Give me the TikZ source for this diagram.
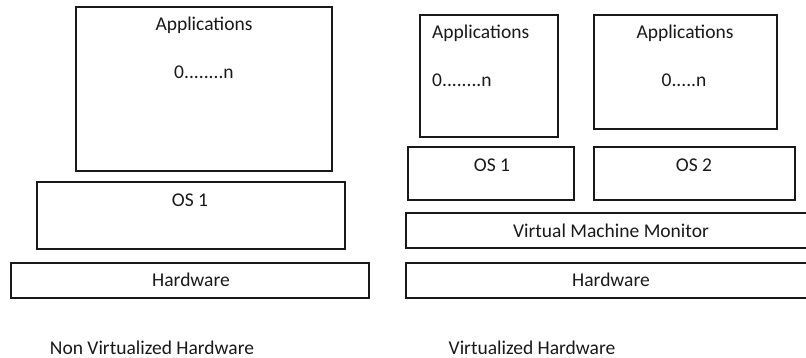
\documentclass[tikz,border=0pt]{standalone}
\usepackage{fontspec}
\setmainfont{Carlito}
\begin{document}
\begin{tikzpicture}[x=1pt,y=-1pt,
  box/.style={draw=black!90,line width=1.6pt,inner sep=0pt,anchor=north west},
  lbl/.style={inner sep=0pt,anchor=base,text=black!90,font=\fontsize{19.5}{22}\selectfont},
  lbll/.style={lbl,anchor=base west}]
\useasboundingbox (0,0) rectangle (806,358);

% Non-virtualised stack
\node[box,minimum width=256pt,minimum height=164pt] (appL) at (75,6) {};
\node[box,minimum width=308pt,minimum height=67pt] (osL) at (36,181) {};
\node[box,minimum width=358pt,minimum height=35pt] (hwL) at (10,262) {};
\node[lbl] (appLt) at (204,30.5) {Applications};
\node[lbl] (appLn) at (204,79) {0........n};
\node[lbl] (osLt) at (190,207) {OS 1};
\node[lbl] (hwLt) at (191,287) {Hardware};
\node[lbl] (capL) at (152,354) {Non Virtualized Hardware};

% Virtualised stack
\node[box,minimum width=138pt,minimum height=122pt] (app1) at (419,14) {};
\node[box,minimum width=183pt,minimum height=114pt] (app2) at (593,14) {};
\node[box,minimum width=166pt,minimum height=53pt] (os1) at (407,146) {};
\node[box,minimum width=201pt,minimum height=53pt] (os2) at (593,146) {};
\node[box,minimum width=410pt,minimum height=35pt] (vmm) at (405,212) {};
\node[box,minimum width=410pt,minimum height=35pt] (hwR) at (405,262) {};
\node[lbll] (app1t) at (432,39) {Applications};
\node[lbll] (app1n) at (432,87) {0........n};
\node[lbl] (app2t) at (685,39) {Applications};
\node[lbl] (app2n) at (684,87) {0.....n};
\node[lbl] (os1t) at (492,171.5) {OS 1};
\node[lbl] (os2t) at (694,171.5) {OS 2};
\node[lbl] (vmmt) at (611,238) {Virtual Machine Monitor};
\node[lbl] (hwRt) at (611,287) {Hardware};
\node[lbl] (capR) at (532,354) {Virtualized Hardware};
\end{tikzpicture}
\end{document}
